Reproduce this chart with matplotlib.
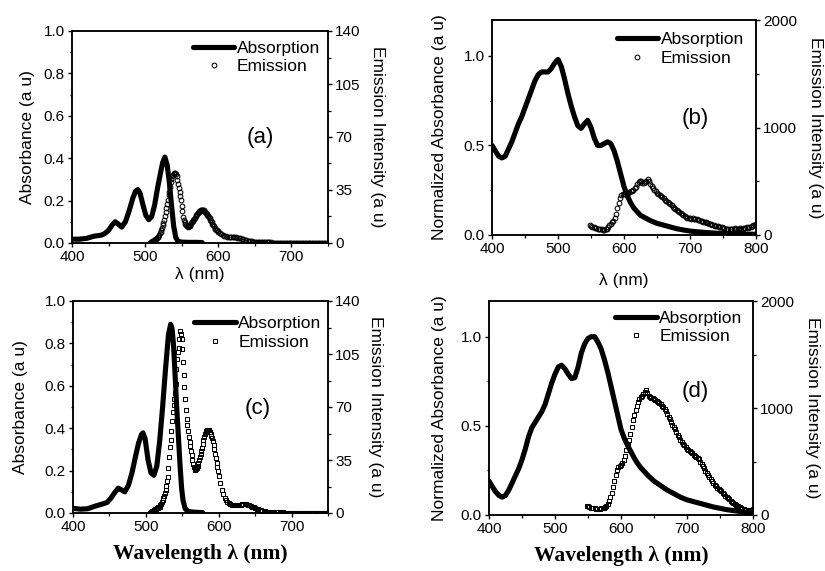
import numpy as np
import matplotlib
matplotlib.use('Agg')
import matplotlib.pyplot as plt
from matplotlib.ticker import MultipleLocator

plt.rcParams['font.family'] = ['Liberation Sans', 'DejaVu Sans']

# ---------------- data ----------------
# Panel (a)
abs_a_x = [400, 410, 420, 430, 440, 445, 450, 455, 459, 463, 468, 473, 478, 483, 487, 490, 493, 497,
           501, 505, 509, 513, 517, 521, 524, 527, 530, 533, 536, 539, 542, 545, 550, 560, 570, 578]
abs_a_y = [0.018, 0.018, 0.022, 0.032, 0.037, 0.045, 0.06, 0.085, 0.10, 0.09, 0.075, 0.10, 0.15, 0.21,
           0.245, 0.252, 0.235, 0.18, 0.13, 0.11, 0.125, 0.18, 0.26, 0.33, 0.38, 0.405, 0.37, 0.29,
           0.18, 0.08, 0.025, 0.008, 0.004, 0.003, 0.003, 0.002]
em_a_x = np.concatenate([np.arange(506, 600, 1), np.arange(600, 752, 2)])
em_a_y = [0.2, 0.3, 0.5, 0.8, 1.0, 1.3, 1.6, 2.0, 2.4, 2.9, 3.4, 3.8, 4.2, 5.2, 6.3, 7.5, 8.8, 10.2,
          11.6, 13.0, 15.5, 18.0, 20.5, 23.0, 25.5, 28.5, 31.5, 34.0, 37.0, 40.0, 42.5, 44.0, 45.0,
          45.8, 46.2, 46.3, 45.5, 44.0, 41.5, 39.0, 36.5, 34.0, 31.0, 28.4, 24.5, 21.0, 17.4, 15.5,
          14.0, 12.8, 12.0, 11.3, 10.9, 10.8, 11.0, 11.5, 12.2, 13.0, 13.8, 14.5, 15.2, 16.0, 16.8,
          17.6, 18.4, 19.2, 19.9, 20.5, 21.0, 21.4, 21.7, 21.9, 22.0, 21.9, 21.6, 21.2, 20.6, 20.0,
          19.3, 18.6, 17.8, 17.0, 16.3, 15.5, 14.6, 13.7, 12.8, 11.9, 11.0, 10.2, 9.5, 8.9, 8.4, 7.9,
          7.4, 6.6, 5.9, 5.3, 4.8, 4.4, 4.1, 3.9, 3.8, 3.8, 3.8, 3.8, 3.7, 3.6, 3.4, 3.1, 2.8, 2.5,
          2.2, 1.9, 1.6, 1.4, 1.2, 1.0, 0.9, 0.8, 0.7, 0.7, 0.6, 0.6, 0.5,
          0.5, 0.5, 0.4, 0.4, 0.4, 0.4, 0.3, 0.3, 0.3, 0.3, 0.3, 0.3, 0.3, 0.2, 0.2, 0.2, 0.2, 0.2,
          0.2, 0.2,
          0.2, 0.2, 0.2, 0.2, 0.2, 0.2, 0.2, 0.2, 0.2, 0.2, 0.2, 0.2, 0.2, 0.2, 0.2, 0.2, 0.2, 0.2,
          0.2, 0.2, 0.2, 0.2, 0.2, 0.2, 0.2]

# Panel (b)
abs_b_x = [400, 405, 410, 415, 420, 425, 430, 435, 440, 445, 450, 455, 460, 465, 470, 475, 480, 485,
           490, 495, 500, 505, 510, 515, 520, 525, 530, 535, 540, 545, 550, 555, 560, 565, 570, 575,
           580, 585, 590, 595, 600, 605, 610, 615, 620, 625, 630, 635, 640, 650, 660, 670, 680, 690,
           700, 720, 740, 760, 780, 800]
abs_b_y = [0.50, 0.47, 0.44, 0.43, 0.44, 0.48, 0.52, 0.57, 0.62, 0.66, 0.71, 0.76, 0.81, 0.86, 0.895,
           0.91, 0.91, 0.91, 0.93, 0.96, 0.98, 0.94, 0.87, 0.79, 0.72, 0.66, 0.61, 0.595, 0.62, 0.64,
           0.60, 0.54, 0.50, 0.50, 0.51, 0.52, 0.51, 0.47, 0.41, 0.34, 0.27, 0.22, 0.18, 0.15, 0.13,
           0.11, 0.10, 0.09, 0.08, 0.065, 0.055, 0.045, 0.035, 0.028, 0.022, 0.015, 0.01, 0.007,
           0.005, 0.004]
em_b_x = np.arange(548, 802, 2)
em_b_y = [92, 85, 75, 70, 68, 62, 60, 58, 55, 52, 50, 47, 52, 60, 75, 90, 105, 118, 130, 160, 200,
          250, 300, 345, 375, 385, 385, 385, 388, 392, 398, 405, 412, 420, 435, 450, 470, 490, 505,
          500, 485, 480, 490, 505, 520, 500, 470, 455, 440, 420, 405, 395, 385, 372, 360, 350, 340,
          330, 320, 305, 295, 285, 275, 265, 255, 245, 235, 225, 215, 205, 195, 185, 175, 168, 162,
          158, 155, 152, 155, 150, 145, 148, 140, 135, 130, 127, 125, 122, 118, 115, 110, 105, 100,
          97, 92, 88, 85, 80, 78, 75, 70, 65, 62, 60, 58, 57, 56, 60, 55, 58, 62, 58, 55, 60, 65,
          60, 58, 62, 65, 70, 68, 72, 75, 80, 90, 95, 100]

# Panel (c)
abs_c_x = [400, 410, 420, 430, 440, 447, 452, 457, 462, 466, 471, 476, 481, 486, 490, 494, 496, 499,
           503, 507, 511, 515, 519, 523, 527, 531, 534, 536, 538, 540, 542, 544.5, 547, 549, 551, 554,
           558, 565, 578]
abs_c_y = [0.022, 0.018, 0.02, 0.032, 0.042, 0.05, 0.07, 0.095, 0.117, 0.11, 0.10, 0.13, 0.19, 0.27,
           0.33, 0.37, 0.378, 0.35, 0.25, 0.19, 0.178, 0.22, 0.34, 0.50, 0.68, 0.84, 0.89, 0.87, 0.79,
           0.66, 0.52, 0.37, 0.22, 0.12, 0.06, 0.02, 0.008, 0.004, 0.002]
em_c_x = np.concatenate([np.arange(506, 600, 1), np.arange(600, 752, 2)])
em_c_y = [0.2, 0.4, 0.8, 1.1, 1.4, 1.7, 2.0, 2.4, 2.8, 3.1, 3.4, 3.7, 4.0, 4.2, 5.0, 6.0, 7.2, 8.5,
          10.0, 11.5, 13.0, 15.5, 18.0, 21.0, 24.0, 30.0, 37.0, 43.5, 48.5, 54.0, 61.0, 67.0, 71.5,
          75.5, 79.0, 85.0, 95.0, 102.0, 106.0, 109.0, 115.0, 120.0, 118.5, 115.0, 108.0, 100.0,
          91.0, 83.0, 75.0, 68.0, 62.0, 58.0, 54.0, 50.0, 47.0, 44.0, 41.0, 38.0, 35.0, 32.5, 30.5,
          29.0, 28.5, 28.8, 29.8, 31.2, 33.0, 35.0, 37.0, 39.0, 41.0, 43.0, 45.5, 48.0, 50.5, 52.5,
          53.5, 54.2, 54.7, 55.0, 55.0, 54.5, 53.5, 52.5, 51.0, 49.5, 47.5, 45.0, 42.0, 39.0, 36.0,
          33.0, 30.5, 27.5,
          24.5, 19.5, 15.5, 12.5, 10.0, 8.5, 7.4, 6.6, 6.0, 5.6, 5.4, 5.3, 5.3, 5.3, 5.4, 5.6, 5.8,
          6.0, 6.0, 5.8, 5.6, 5.2, 4.7, 4.2, 3.7, 3.3, 2.9, 2.6, 2.2, 1.9, 1.6, 1.3, 1.1, 0.9, 0.8,
          0.7, 0.6, 0.6, 0.5, 0.5, 0.5, 0.4, 0.4, 0.4, 0.4, 0.3, 0.3, 0.3, 0.3, 0.3, 0.3,
          0.2, 0.2, 0.2, 0.2, 0.2, 0.2, 0.2, 0.2, 0.2, 0.2, 0.2, 0.2, 0.2, 0.2, 0.2, 0.2, 0.2, 0.2,
          0.2, 0.2, 0.2, 0.2, 0.2, 0.2, 0.2]

# Panel (d)
abs_d_x = [400, 405, 410, 415, 420, 425, 430, 435, 440, 445, 450, 455, 460, 465, 470, 475, 480, 485,
           490, 495, 500, 505, 510, 515, 520, 525, 530, 535, 540, 545, 550, 555, 560, 565, 570, 575,
           580, 585, 590, 595, 600, 605, 610, 615, 620, 625, 630, 635, 640, 650, 660, 670, 680, 690,
           700, 720, 740, 760, 780, 800]
abs_d_y = [0.19, 0.16, 0.13, 0.11, 0.10, 0.11, 0.14, 0.18, 0.22, 0.26, 0.31, 0.37, 0.44, 0.49, 0.52,
           0.55, 0.58, 0.62, 0.68, 0.74, 0.79, 0.83, 0.84, 0.82, 0.79, 0.765, 0.77, 0.83, 0.91, 0.96,
           0.99, 1.0, 1.0, 0.97, 0.93, 0.87, 0.80, 0.72, 0.64, 0.56, 0.48, 0.43, 0.39, 0.355, 0.32,
           0.29, 0.265, 0.245, 0.225, 0.19, 0.165, 0.14, 0.12, 0.10, 0.085, 0.065, 0.045, 0.03, 0.02,
           0.01]
em_d_x = np.arange(548, 802, 2)
em_d_y = [84, 80, 72, 68, 65, 62, 62, 60, 60, 58, 60, 62, 62, 65, 72, 85, 105, 130, 165, 205, 260,
          320, 370, 420, 450, 458, 465, 485, 512, 555, 605, 655, 700, 760, 820, 885, 935, 980, 1020,
          1055, 1080, 1100, 1115, 1130, 1150, 1164, 1140, 1110, 1100, 1095, 1090, 1085, 1075, 1065,
          1055, 1045, 1035, 1020, 1008, 990, 970, 945, 920, 895, 870, 845, 822, 800, 775, 750, 725,
          700, 680, 665, 650, 635, 621, 610, 600, 590, 578, 565, 555, 545, 535, 520, 500, 480, 460,
          435, 410, 388, 370, 352, 335, 318, 300, 285, 270, 255, 245, 233, 220, 205, 192, 180, 168,
          155, 145, 133, 122, 112, 103, 95, 87, 80, 72, 65, 58, 52, 48, 45, 42, 42, 45, 50, 55]

labels_l = ["Absorbance (a u)", "Normalized Absorbance (a u)"]
label_r = "Emission Intensity (a u)"
legend_labels = ["Absorption", "Emission"]

# ---------------- figure ----------------
W, H = 825, 571
fig = plt.figure(figsize=(W / 100, H / 100), dpi=100)


def rect(l, t, r, b):
    return [l / W, 1 - b / H, (r - l) / W, (b - t) / H]


def style(ax):
    for s in ax.spines.values():
        s.set_linewidth(1.1)
    ax.tick_params(which='major', direction='out', length=3.2, width=1.0, labelsize=11, pad=2)
    ax.tick_params(which='minor', direction='out', length=1.8, width=0.9)


def panel(pos, ax_x, ax_y, ex, ey, marker, xmax, narrow, tag, tagpos, xlabel, serif,
          leg_anchor, lpad_l, lpad_r, lpad_x):
    ax = fig.add_axes(rect(*pos))
    ax2 = ax.twinx()
    style(ax)
    style(ax2)
    ax.tick_params(top=False, right=False)
    h1, = ax.plot(ax_x, ax_y, color='black', lw=3.7, solid_capstyle='round', zorder=3)
    h2, = ax2.plot(ex, ey, ls='none', marker=marker, ms=3.4, mfc='none', mec='black',
                   mew=0.75, zorder=4)
    ax.set_xlim(400, xmax)
    ax.xaxis.set_major_locator(MultipleLocator(100))
    ax.xaxis.set_minor_locator(MultipleLocator(50))
    if narrow:
        ax.set_ylim(0, 1.0)
        ax.yaxis.set_major_locator(MultipleLocator(0.2))
        ax.yaxis.set_minor_locator(MultipleLocator(0.1))
        ax2.set_ylim(0, 140)
        ax2.yaxis.set_major_locator(MultipleLocator(35))
        ax2.yaxis.set_minor_locator(MultipleLocator(17.5))
        ax.set_ylabel(labels_l[0], fontsize=12.5, labelpad=lpad_l)
    else:
        ax.set_ylim(0, 1.2)
        ax.yaxis.set_major_locator(MultipleLocator(0.5))
        ax.yaxis.set_minor_locator(MultipleLocator(0.25))
        ax2.set_ylim(0, 2000)
        ax2.yaxis.set_major_locator(MultipleLocator(1000))
        ax2.yaxis.set_minor_locator(MultipleLocator(500))
        ax.set_ylabel(labels_l[1], fontsize=12.5, labelpad=lpad_l)
    ax2.set_ylabel(label_r, fontsize=12.5, rotation=270, va='bottom', labelpad=lpad_r)
    if serif:
        ax.set_xlabel(xlabel, fontsize=15.5, fontweight='bold',
                      family=['Liberation Serif', 'DejaVu Serif'], labelpad=lpad_x)
    else:
        ax.set_xlabel(xlabel, fontsize=12.5, labelpad=lpad_x)
    ax.text(tagpos[0], tagpos[1], tag, transform=ax.transAxes, fontsize=16,
            ha='center', va='center')
    ax2.legend([h1, h2], legend_labels, loc='upper right', bbox_to_anchor=leg_anchor,
               frameon=False, fontsize=12.5, handlelength=2.4, handletextpad=0.15,
               labelspacing=0.2, borderpad=0, borderaxespad=0, numpoints=1)
    return ax, ax2


panel((72, 31, 328, 243), abs_a_x, abs_a_y, em_a_x, em_a_y, 'o', 750, True, '(a)', (0.734, 0.5),
      'λ (nm)', False, (0.97, 0.955), 6, 7, 2)
panel((492, 20, 756, 235), abs_b_x, abs_b_y, em_b_x, em_b_y, 'o', 800, False, '(b)', (0.769, 0.544),
      'λ (nm)', False, (0.955, 0.945), 12, 8, 12)
panel((73, 301, 328, 513), abs_c_x, abs_c_y, em_c_x, em_c_y, 's', 750, True, '(c)', (0.725, 0.495),
      'Wavelength λ (nm)', True, (0.975, 0.93), 12, 5, 7)
panel((489, 301, 753, 515), abs_d_x, abs_d_y, em_d_x, em_d_y, 's', 800, False, '(d)', (0.78, 0.575),
      'Wavelength λ (nm)', True, (0.96, 0.955), 10, 8, 7)

fig.savefig('out.png', dpi=100)
